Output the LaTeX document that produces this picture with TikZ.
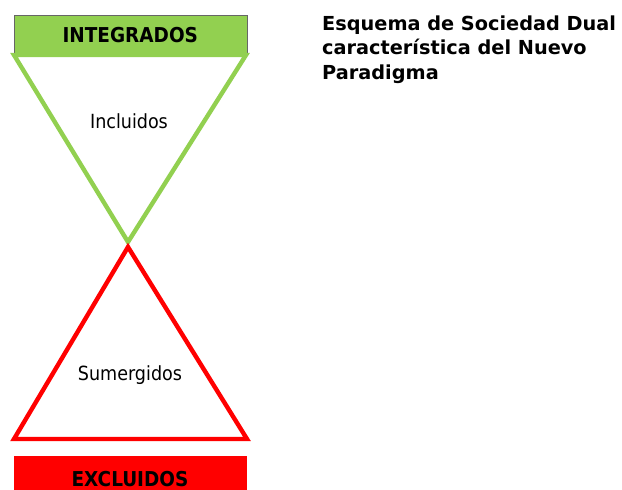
\documentclass[tikz,border=0pt]{standalone}
\usepackage{fontspec}
\setmainfont{DejaVu Sans}
\newfontfamily\tahoma{DejaVu Sans Condensed}
\definecolor{lgreen}{HTML}{92D050}
\definecolor{lred}{HTML}{FF0000}
\begin{document}
\begin{tikzpicture}[x=1pt,y=-1pt,
  labelbox/.style={draw=black!60,line width=0.6pt,minimum width=233pt,minimum height=40pt,inner sep=0pt},
  boxtext/.style={font=\tahoma\bfseries\fontsize{20.5}{24}\selectfont,inner sep=0pt},
  tri/.style={line width=4.4pt,line join=miter},
  inlabel/.style={font=\tahoma\fontsize{19.5}{22}\selectfont,inner sep=0pt}]
\path[use as bounding box] (0,0) rectangle (622,490);
\begin{scope}
\clip (0,0) rectangle (622,490);
\node[labelbox,fill=lgreen,anchor=north west,boxtext] (integ) at (13.5,15) {INTEGRADOS};
\node[labelbox,fill=lred,draw=none,anchor=north west,minimum height=44pt] (exclu) at (14,456) {};
\node[boxtext] (extxt) at (130,479) {EXCLUIDOS};
\end{scope}
\coordinate (gl) at (14,55);
\coordinate (gr) at (246,55);
\coordinate (mid) at (128,242);
\coordinate (rl) at (14,439);
\coordinate (rr) at (247,439);
\coordinate (rt) at (128,247);
\draw[tri,lgreen] (gl) -- (gr) -- (mid) -- cycle;
\draw[tri,lred] (rt) -- (rr) -- (rl) -- cycle;
\node[inlabel] (incl) at (129,121) {Incluidos};
\node[inlabel] (sumer) at (130,375) {Sumergidos};
\node[anchor=base west,align=left,inner sep=0pt,font=\bfseries\fontsize{19.3}{24.5}\selectfont] (title) at (322,79) {Esquema de Sociedad Dual\\característica del Nuevo\\Paradigma};
\end{tikzpicture}
\end{document}
